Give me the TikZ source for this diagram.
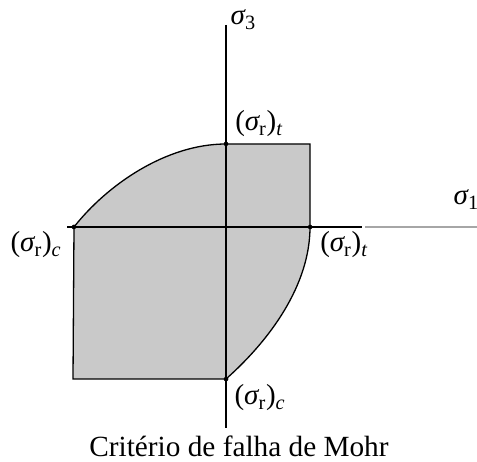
\documentclass[tikz,border=0pt]{standalone}
\usepackage{fontspec}
\setmainfont{Liberation Serif}
\usetikzlibrary{positioning}
\newcommand{\sigr}[1]{({\itshape σ}\textsubscript{r})\textsubscript{\itshape #1}}

\begin{document}
\begin{tikzpicture}[x=1pt,y=-1pt,
region/.style={fill=gray!42,draw=black,line width=1.3pt},
axis/.style={line width=1.1pt},
vertex/.style={circle,fill=black,inner sep=0pt,minimum size=4.5pt},
lbl/.style={font=\fontsize{20}{24}\selectfont,inner sep=1pt,scale=1.45}]
\useasboundingbox (0,0) rectangle (477,462);
\coordinate (o) at (226,227);
\coordinate (tr) at (310,144);
\coordinate (bl) at (73,379);
\node[vertex](top) at (226,144){};
\node[vertex](left) at (74,227){};
\node[vertex](right) at (310,227){};
\node[vertex](bot) at (226,379){};
% shaded region
\filldraw[region](left.center) .. controls (107,185) and (166,144) .. (top.center)
  --(tr)--(right.center) .. controls (310,285) and (270,340) .. (bot.center)
  --(bl)--cycle;
% axes
\coordinate (ytop) at (226,25);
\coordinate (ybot) at (226,428);
\coordinate (xleft) at (67,227);
\coordinate (xmid) at (362,227);
\coordinate (xright) at (477,227);
\draw[axis](ytop)--(ybot);
\draw[axis](xleft)--(xmid);
\draw[axis,gray!70](365,227)--(xright);
\node[vertex] at (top){};
\node[vertex] at (left){};
\node[vertex] at (right){};
\node[vertex] at (bot){};
% labels
\node[lbl,anchor=base west](s3) at (229,25){{\itshape σ}\textsubscript{3}};
\node[lbl,anchor=base west](s1) at (452,205){{\itshape σ}\textsubscript{1}};
\node[lbl](ttop) at (259,124){\sigr{t}};
\node[lbl](cleft) at (36,245){\sigr{c}};
\node[lbl](tright) at (344,245){\sigr{t}};
\node[lbl](cbot) at (260,398){\sigr{c}};
\node[font=\fontsize{24}{28}\selectfont,scale=1.22](caption) at (239,446){Critério de falha de Mohr};
\end{tikzpicture}
\end{document}
